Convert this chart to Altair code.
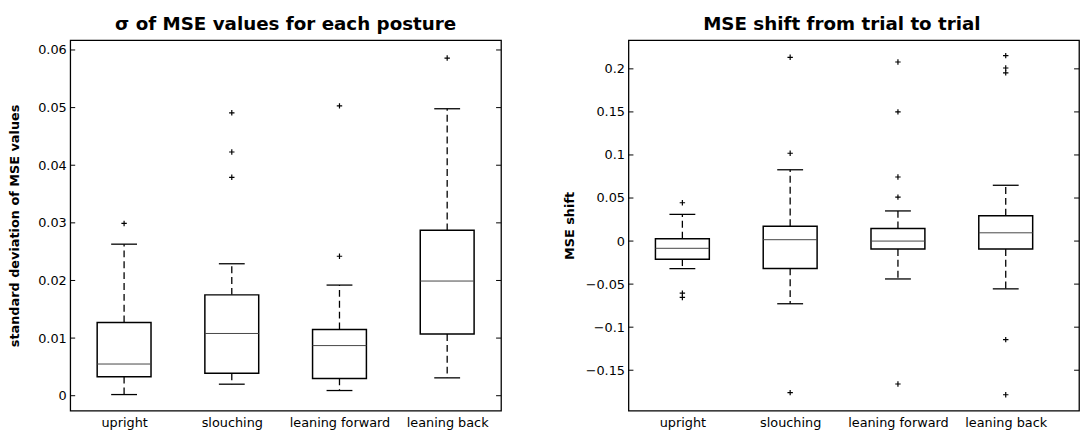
import json
import altair as alt
import pandas as pd

# ---------------- data ----------------
categories = ["upright", "slouching", "leaning forward", "leaning back"]
positions = [1, 2, 3, 4]

# left panel: standard deviation of MSE values
sd_lower = [0.0002, 0.0020, 0.0009, 0.0031]
sd_q1 = [0.0033, 0.0039, 0.0030, 0.0107]
sd_median = [0.0055, 0.0108, 0.0087, 0.0199]
sd_q3 = [0.0127, 0.0175, 0.0115, 0.0287]
sd_upper = [0.0263, 0.0229, 0.0192, 0.0498]
sd_outliers = [[0.0299], [0.0491, 0.0423, 0.0379], [0.0503, 0.0242], [0.0586]]
sd_ticks = [0, 0.01, 0.02, 0.03, 0.04, 0.05, 0.06]

# right panel: MSE shift from trial to trial
sh_lower = [-0.032, -0.0728, -0.044, -0.0555]
sh_q1 = [-0.021, -0.0318, -0.0092, -0.0092]
sh_median = [-0.0084, 0.0016, 0.0, 0.0096]
sh_q3 = [0.0028, 0.0172, 0.0146, 0.0295]
sh_upper = [0.031, 0.0828, 0.035, 0.0648]
sh_outliers = [[0.0445, -0.0605, -0.0655],
               [0.2134, 0.102, -0.176],
               [0.208, 0.150, 0.0744, 0.051, -0.166],
               [0.2154, 0.201, 0.1954, -0.1145, -0.1785]]
sh_ticks = [-0.15, -0.1, -0.05, 0, 0.05, 0.1, 0.15, 0.2]

FONT = "DejaVu Sans"
BOX_HALF = 0.25
CAP_HALF = 0.12


def panel(lower, q1, med, q3, upper, outliers, ticks, ydomain, xdomain,
          width, height, title, title_dx, ytitle, ytitle_pad):
    box = pd.DataFrame({
        "pos": positions,
        "lo": [p - BOX_HALF for p in positions],
        "hi": [p + BOX_HALF for p in positions],
        "clo": [p - CAP_HALF for p in positions],
        "chi": [p + CAP_HALF for p in positions],
        "wlo": lower, "q1": q1, "med": med, "q3": q3, "whi": upper,
    })
    out = pd.DataFrame([{"pos": p, "v": v}
                        for p, vals in zip(positions, outliers) for v in vals])
    tk = pd.DataFrame({"t": ticks})

    xs = alt.Scale(domain=xdomain, nice=False, zero=False)
    ys = alt.Scale(domain=ydomain, nice=False, zero=False)
    xaxis = alt.Axis(values=positions,
                     labelExpr=json.dumps(categories) + "[datum.value - 1]",
                     ticks=False, domain=False, grid=False, title=None,
                     labelPadding=6, labelFontSize=13, labelFont=FONT,
                     labelColor="black", labelFlush=False)
    yaxis = alt.Axis(values=ticks, format=".2~f", ticks=False, domain=False,
                     grid=False, title=ytitle, titleFont=FONT,
                     titleFontSize=13, titleFontWeight="bold",
                     titleColor="black", titlePadding=ytitle_pad,
                     labelPadding=4, labelFontSize=13, labelFont=FONT,
                     labelColor="black")

    def X(f):
        return alt.X(f, type="quantitative", scale=xs, axis=xaxis)

    def Y(f):
        return alt.Y(f, type="quantitative", scale=ys, axis=yaxis)

    base = alt.Chart(box)
    tick_l = alt.Chart(tk).mark_rule(color="black", strokeWidth=1).encode(
        x=alt.value(0), x2=alt.value(5), y=Y("t"))
    tick_r = alt.Chart(tk).mark_rule(color="black", strokeWidth=1).encode(
        x=alt.value(width - 5), x2=alt.value(width), y=Y("t"))
    whisk_up = base.mark_rule(color="black", strokeWidth=1.3,
                              strokeDash=[7, 4]).encode(
        x=X("pos"), y=Y("q3"), y2="whi")
    whisk_lo = base.mark_rule(color="black", strokeWidth=1.3,
                              strokeDash=[7, 4]).encode(
        x=X("pos"), y=Y("q1"), y2="wlo")
    cap_up = base.mark_rule(color="black", strokeWidth=1.3).encode(
        x=X("clo"), x2="chi", y=Y("whi"))
    cap_lo = base.mark_rule(color="black", strokeWidth=1.3).encode(
        x=X("clo"), x2="chi", y=Y("wlo"))
    rect = base.mark_rect(fill="white", stroke="black", strokeWidth=1.5).encode(
        x=X("lo"), x2="hi", y=Y("q1"), y2="q3")
    median = base.mark_rule(color="#444444", strokeWidth=1).encode(
        x=X("lo"), x2="hi", y=Y("med"))
    pts = alt.Chart(out).mark_point(
        shape="M-1,0L1,0M0,-1L0,1", size=30, filled=False,
        color="black", strokeWidth=1.2, opacity=1).encode(
        x=X("pos"), y=Y("v"))

    return alt.layer(tick_l, tick_r, whisk_up, whisk_lo, cap_up, cap_lo,
                     rect, median, pts).properties(
        width=width, height=height,
        title=alt.TitleParams(text=title, font=FONT, fontSize=18.5,
                              fontWeight="bold", color="black",
                              offset=6.5, dx=title_dx))


left = panel(sd_lower, sd_q1, sd_median, sd_q3, sd_upper, sd_outliers,
             sd_ticks, [-0.0026, 0.0617], [0.5, 4.5], 436, 375,
             "σ of MSE values for each posture", 0,
             "standard deviation of MSE values", 16)
right = panel(sh_lower, sh_q1, sh_median, sh_q3, sh_upper, sh_outliers,
              sh_ticks, [-0.197, 0.2333], [0.5, 4.68], 456, 375,
              "MSE shift from trial to trial", -12,
              "MSE shift", 9)

chart = alt.hconcat(left, right, spacing=60).properties(
    padding={"left": 0, "top": 4, "right": 0, "bottom": 0}
).configure_view(stroke="black", strokeWidth=1.3)

chart.save("out.html", embed_options={"renderer": "svg", "actions": False})
